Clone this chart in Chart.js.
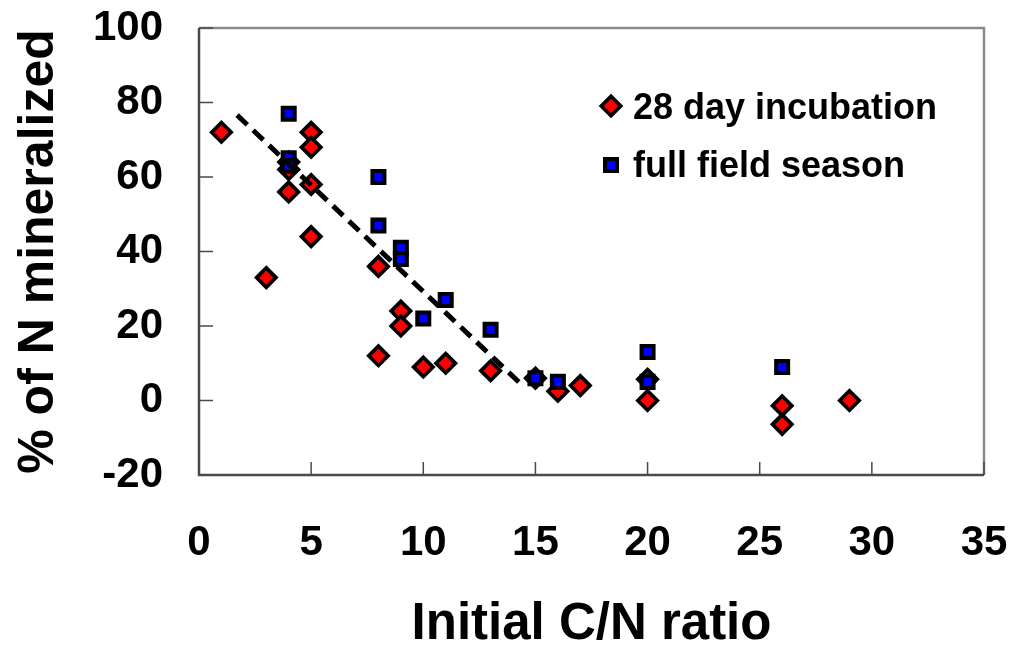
<!DOCTYPE html>
<html>
<head>
<meta charset="utf-8">
<script src="https://cdn.jsdelivr.net/npm/chart.js@4.4.0/dist/chart.umd.min.js"></script>
<style>
  html, body { margin: 0; padding: 0; background: #fff; }
  #wrap { width: 1028px; height: 647px; }
</style>
</head>
<body>
<div id="wrap"><canvas id="chart_nMineralized"></canvas></div>
<script>
// values
var incubationLabel = '28 day incubation';
var incubationX = [1, 3, 4, 4, 4, 5, 5, 5, 5, 8, 8, 9, 9, 10, 11, 13, 15, 16, 17, 20, 20, 26, 26, 29];
var incubationY = [72, 33, 64, 62, 56, 72, 68, 58, 44, 36, 12, 24, 20, 9, 10, 8, 6, 2.5, 4, 5.7, 0, -1.4, -6.4, 0];

var fieldLabel = 'full field season';
var fieldX = [4, 4, 4, 8, 8, 9, 9, 10, 11, 13, 15, 16, 20, 20, 26];
var fieldY = [77, 65, 63, 60, 47, 41, 38, 22, 27, 19, 6, 5, 13, 5, 9];

var trendX = [1.7, 14.5];
var trendY = [76.6, 3.6];

var xMin = 0, xMax = 35, xStep = 5;
var yMin = -20, yMax = 100, yStep = 20;

var FONT = '"Liberation Sans", Arial, Helvetica, sans-serif';

function pts(xs, ys) {
  return xs.map(function (x, i) { return { x: x, y: ys[i] }; });
}

// keep the plot box where the reference has it, whatever the label overhang
function clearPadding(scale) {
  scale.paddingTop = 0;
  scale.paddingBottom = 0;
  scale.paddingLeft = 0;
  scale.paddingRight = 0;
}

var framePlugin = {
  id: 'frame',
  beforeDraw: function (chart) {
    var ctx = chart.ctx;
    ctx.save();
    ctx.fillStyle = 'white';
    ctx.fillRect(0, 0, chart.width, chart.height);
    ctx.restore();
  },
  beforeDatasetsDraw: function (chart) {
    var ctx = chart.ctx, a = chart.chartArea;
    var xs = chart.scales.x, ys = chart.scales.y;
    ctx.save();
    // top + right border (grey)
    ctx.strokeStyle = '#8a8a8a';
    ctx.lineWidth = 2.5;
    ctx.beginPath();
    ctx.moveTo(a.left, a.top);
    ctx.lineTo(a.right, a.top);
    ctx.lineTo(a.right, a.bottom);
    ctx.stroke();
    // axes
    ctx.strokeStyle = '#4a4a4a';
    ctx.beginPath();
    ctx.moveTo(a.left, a.top);
    ctx.lineTo(a.left, a.bottom);
    ctx.lineTo(a.right, a.bottom);
    ctx.stroke();
    // inward tick marks
    ctx.lineWidth = 1.5;
    ctx.beginPath();
    for (var v = xMin; v <= xMax; v += xStep) {
      var px = xs.getPixelForValue(v);
      ctx.moveTo(px, a.bottom);
      ctx.lineTo(px, a.bottom - 13);
    }
    for (var w = yMin; w <= yMax; w += yStep) {
      var py = ys.getPixelForValue(w);
      ctx.moveTo(a.left, py);
      ctx.lineTo(a.left + 14, py);
    }
    ctx.stroke();
    ctx.restore();
  },
  afterDraw: function (chart) {
    // legend inside the plot, top right
    var ctx = chart.ctx;
    ctx.save();
    ctx.lineJoin = 'miter';
    // diamond
    ctx.beginPath();
    ctx.moveTo(611, 106 - 9.7);
    ctx.lineTo(611 + 9.7, 106);
    ctx.lineTo(611, 106 + 9.7);
    ctx.lineTo(611 - 9.7, 106);
    ctx.closePath();
    ctx.fillStyle = '#ff0000';
    ctx.fill();
    ctx.lineWidth = 3.7;
    ctx.strokeStyle = '#000';
    ctx.stroke();
    // square
    ctx.fillStyle = '#0000ff';
    ctx.fillRect(611 - 6, 165 - 6, 12, 12);
    ctx.lineWidth = 4;
    ctx.strokeRect(611 - 6, 165 - 6, 12, 12);
    ctx.fillStyle = '#000';
    ctx.font = 'bold 36px ' + FONT;
    ctx.textBaseline = 'alphabetic';
    ctx.textAlign = 'left';
    ctx.fillText(incubationLabel, 633, 119);
    ctx.fillText(fieldLabel, 633, 177);
    ctx.restore();
  }
};

var chart_nMineralized = new Chart(document.getElementById('chart_nMineralized'), {
  type: 'scatter',
  data: {
    datasets: [
      {
        label: incubationLabel,
        data: pts(incubationX, incubationY),
        pointStyle: 'rectRot',
        pointRadius: 9.7,
        pointBorderWidth: 3.7,
        backgroundColor: '#ff0000',
        borderColor: '#000000',
        order: 3
      },
      {
        label: fieldLabel,
        data: pts(fieldX, fieldY),
        pointStyle: 'rect',
        pointRadius: 8.5,
        pointBorderWidth: 4,
        backgroundColor: '#0000ff',
        borderColor: '#000000',
        order: 2
      },
      {
        label: 'trend',
        data: pts(trendX, trendY),
        showLine: true,
        pointRadius: 0,
        borderColor: '#000000',
        borderWidth: 5,
        borderDash: [14, 8],
        fill: false,
        order: 1
      }
    ]
  },
  options: {
    animation: false,
    responsive: true,
    maintainAspectRatio: false,
    layout: { padding: { top: 28, right: 44, left: 0, bottom: 0 } },
    plugins: {
      legend: { display: false },
      tooltip: { enabled: false }
    },
    scales: {
      x: {
        type: 'linear',
        min: xMin,
        max: xMax,
        grid: { display: false, drawTicks: false },
        border: { display: false },
        ticks: {
          stepSize: xStep,
          padding: 43,
          color: '#000',
          maxRotation: 0,
          font: { family: FONT, size: 42, weight: 'bold' }
        },
        title: {
          display: true,
          text: 'Initial C/N ratio',
          color: '#000',
          font: { family: FONT, size: 51, weight: 'bold', lineHeight: 0.8 },
          padding: { top: 0, bottom: 2 }
        },
        afterFit: function (scale) { scale.height = 172; clearPadding(scale); }
      },
      y: {
        type: 'linear',
        min: yMin,
        max: yMax,
        grid: { display: false, drawTicks: false },
        border: { display: false },
        ticks: {
          stepSize: yStep,
          padding: 36,
          color: '#000',
          font: { family: FONT, size: 42, weight: 'bold' }
        },
        title: {
          display: true,
          text: '% of N mineralized',
          color: '#000',
          font: { family: FONT, size: 50, weight: 'bold', lineHeight: 1.2 },
          padding: { top: 9, bottom: 0 }
        },
        afterFit: function (scale) { scale.width = 199; clearPadding(scale); }
      }
    }
  },
  plugins: [framePlugin]
});
</script>
</body>
</html>
